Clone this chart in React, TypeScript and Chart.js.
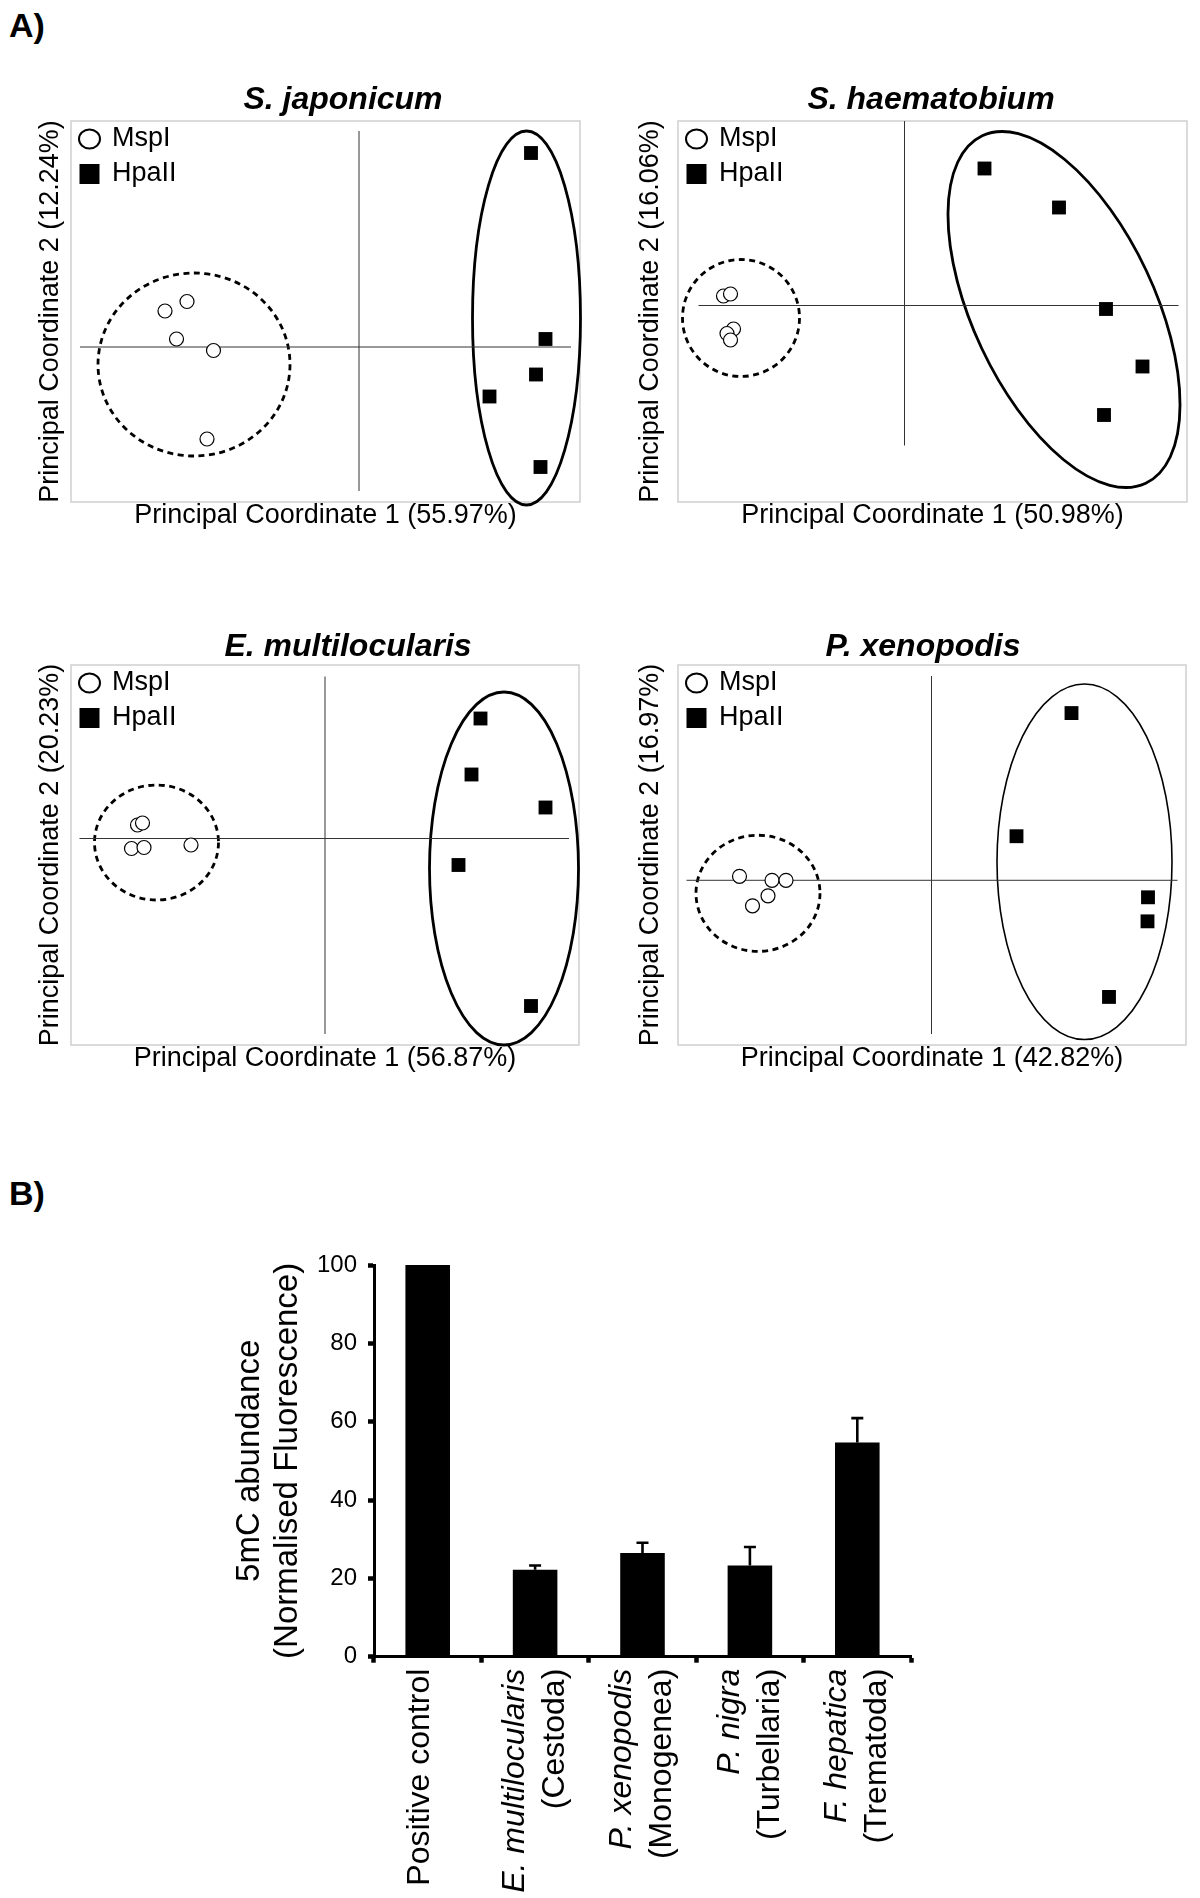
import React, { useEffect, useRef } from 'react';
import { Chart, registerables } from 'chart.js';

Chart.register(...registerables);

const FONT = "'Liberation Sans', Arial, Helvetica, sans-serif";
Chart.defaults.font.family = FONT;
Chart.defaults.color = '#000';

// ---------------- Panel A: PCoA data ----------------
const panelTitles = ['S. japonicum', 'S. haematobium', 'E. multilocularis', 'P. xenopodis'];
const pc1Labels = [
  'Principal Coordinate 1 (55.97%)',
  'Principal Coordinate 1 (50.98%)',
  'Principal Coordinate 1 (56.87%)',
  'Principal Coordinate 1 (42.82%)',
];
const pc2Labels = [
  'Principal Coordinate 2 (12.24%)',
  'Principal Coordinate 2 (16.06%)',
  'Principal Coordinate 2 (20.23%)',
  'Principal Coordinate 2 (16.97%)',
];
const seriesNames = ['MspI', 'HpaII'];

// S. japonicum
const sjMspI = [[-0.388, 0.072], [-0.344, 0.091], [-0.365, 0.016], [-0.291, -0.007], [-0.304, -0.184]];
const sjHpaII = [[0.344, 0.388], [0.373, 0.016], [0.354, -0.055], [0.261, -0.099], [0.363, -0.24]];
const sjClusters = [[-0.33, -0.035, 0.192, 0.183, 0], [0.335, 0.058, 0.108, 0.374, 0]]; // cx, cy, rx, ry, angle
const sjRange = [-0.576, 0.442, -0.31, 0.452]; // xmin, xmax, ymin, ymax
const sjAxisLines = [-0.558, 0.424, -0.288, 0.432]; // PC1 line x-extent, PC2 line y-extent

// S. haematobium
const shMspI = [[-0.362, 0.019], [-0.348, 0.023], [-0.342, -0.047], [-0.355, -0.056], [-0.348, -0.069]];
const shHpaII = [[0.16, 0.274], [0.309, 0.196], [0.403, -0.007], [0.476, -0.122], [0.399, -0.219]];
const shClusters = [[-0.327, -0.025, 0.117, 0.117, 0], [0.319, -0.008, 0.384, 0.182, -64.8]];
const shRange = [-0.453, 0.565, -0.393, 0.369];
const shAxisLines = [-0.412, 0.548, -0.28, 0.369];

// E. multilocularis
const emMspI = [[-0.375, 0.027], [-0.365, 0.031], [-0.387, -0.02], [-0.362, -0.018], [-0.268, -0.013]];
const emHpaII = [[0.311, 0.24], [0.293, 0.128], [0.441, 0.062], [0.267, -0.053], [0.412, -0.335]];
const emClusters = [[-0.337, -0.008, 0.124, 0.115, 0], [0.358, -0.06, 0.149, 0.353, 0]];
const emRange = [-0.508, 0.508, -0.413, 0.347];
const emAxisLines = [-0.491, 0.488, -0.391, 0.324];

// P. xenopodis
const pxMspI = [[-0.384, 0.008], [-0.319, 0.0], [-0.291, 0.0], [-0.327, -0.031], [-0.358, -0.051]];
const pxHpaII = [[0.28, 0.334], [0.17, 0.088], [0.433, -0.034], [0.432, -0.082], [0.355, -0.233]];
const pxClusters = [[-0.347, -0.026, 0.124, 0.116, 0], [0.306, 0.037, 0.175, 0.355, 0]];
const pxRange = [-0.507, 0.509, -0.329, 0.43];
const pxAxisLines = [-0.49, 0.492, -0.307, 0.408];

const panelData = [
  { mspI: sjMspI, hpaII: sjHpaII, clusters: sjClusters, range: sjRange, axisLines: sjAxisLines },
  { mspI: shMspI, hpaII: shHpaII, clusters: shClusters, range: shRange, axisLines: shAxisLines },
  { mspI: emMspI, hpaII: emHpaII, clusters: emClusters, range: emRange, axisLines: emAxisLines },
  { mspI: pxMspI, hpaII: pxHpaII, clusters: pxClusters, range: pxRange, axisLines: pxAxisLines },
];

// ---------------- Panel B: bar data ----------------
const barCategories = ['Positive control', 'E. multilocularis', 'P. xenopodis', 'P. nigra', 'F. hepatica'];
const barClasses = ['', '(Cestoda)', '(Monogenea)', '(Turbellaria)', '(Trematoda)'];
const barValues = [100, 22.2, 26.5, 23.3, 54.7];
const barErrors = [0, 1.1, 2.6, 4.7, 6.2];
const barYTitle = ['5mC abundance', '(Normalised Fluorescence)'];

// ---------------- Layout (pixels) ----------------
const TITLE_SIZE = 32;
const AXIS_SIZE = 27;
const LEGEND_SIZE = 27;
const CAT_SIZE = 32;
const panelLayout = [
  { box: [71, 121, 580, 502], titleX: 343, titleY: 100, yLabX: 50.5, xLabY: 515.4, canvasLeft: 0, solidWidth: 2.8 },
  { box: [678, 121, 1187, 502], titleX: 931, titleY: 100, yLabX: 651, xLabY: 515.4, canvasLeft: 607, solidWidth: 2.8 },
  { box: [71, 665, 579, 1045], titleX: 348, titleY: 647, yLabX: 50.5, xLabY: 1058.4, canvasLeft: 0, solidWidth: 2.8 },
  { box: [678, 665, 1186, 1045], titleX: 923, titleY: 647, yLabX: 651, xLabY: 1058.4, canvasLeft: 607, solidWidth: 1.6 },
];

function panelGeometry(i: number) {
  const L = panelLayout[i];
  const [bl, bt, br, bb] = L.box;
  const titleLH = TITLE_SIZE * 1.2;
  const axLH = AXIS_SIZE * 1.2;
  const CL = L.canvasLeft;
  const CT = bt - 60;
  const CR = 2 * L.titleX - CL;
  const CB = bb + 42;
  const pt = L.titleY - titleLH / 2 - CT;
  return {
    CL,
    CT,
    CW: CR - CL,
    CH: CB - CT,
    pt,
    pb: bt - CT - titleLH - pt,
    wY: bl - CL,
    wR: CR - br,
    hX: CB - bb,
    ptY: Math.max(0, L.yLabX - CL - axLH / 2),
    pbX: Math.max(0, CB - axLH / 2 - L.xLabY),
  };
}

function decorPlugin(i: number) {
  const d = panelData[i];
  const solidW = panelLayout[i].solidWidth;
  return {
    id: 'pcoaDecor',
    beforeDatasetsDraw(chart: any) {
      const { ctx, chartArea: a, scales } = chart;
      const xs = scales.x;
      const ys = scales.y;
      ctx.save();
      ctx.strokeStyle = '#cfcfcf';
      ctx.lineWidth = 1.5;
      ctx.strokeRect(a.left, a.top, a.right - a.left, a.bottom - a.top);
      d.clusters.forEach((c: number[], k: number) => {
        const [cx, cy, rx, ry, ang] = c;
        const px = xs.getPixelForValue(cx);
        const py = ys.getPixelForValue(cy);
        const prx = Math.abs(xs.getPixelForValue(cx + rx) - px);
        const pry = Math.abs(ys.getPixelForValue(cy + ry) - py);
        ctx.beginPath();
        ctx.setLineDash(k === 0 ? [6, 4.5] : []);
        ctx.lineWidth = k === 0 ? 2.8 : solidW;
        ctx.strokeStyle = '#000';
        ctx.ellipse(px, py, prx, pry, (-ang * Math.PI) / 180, 0, Math.PI * 2);
        ctx.stroke();
      });
      ctx.restore();
    },
    afterDraw(chart: any) {
      const { ctx, chartArea: a } = chart;
      ctx.save();
      const mx = a.left + 18.5;
      seriesNames.forEach((name, k) => {
        const my = a.top + 18 + k * 35;
        if (k === 0) {
          ctx.beginPath();
          ctx.ellipse(mx, my, 10.5, 9.5, 0, 0, Math.PI * 2);
          ctx.fillStyle = '#fff';
          ctx.fill();
          ctx.lineWidth = 2;
          ctx.strokeStyle = '#000';
          ctx.stroke();
        } else {
          ctx.fillStyle = '#000';
          ctx.fillRect(mx - 10, my - 10, 20, 20);
        }
        ctx.fillStyle = '#000';
        ctx.font = `${LEGEND_SIZE}px ${FONT}`;
        ctx.textAlign = 'left';
        ctx.textBaseline = 'middle';
        ctx.fillText(name, a.left + 41, my);
      });
      ctx.restore();
    },
  };
}

function buildPanel(i: number): any {
  const d = panelData[i];
  const g = panelGeometry(i);
  const toPts = (arr: number[][]) => arr.map(([x, y]) => ({ x, y }));
  const hiddenGrid = { display: false, drawTicks: false };
  return {
    type: 'scatter',
    data: {
      datasets: [
        { label: seriesNames[0], data: toPts(d.mspI), pointStyle: 'circle', pointRadius: 7, backgroundColor: '#fff', borderColor: '#000', borderWidth: 1.2 },
        { label: seriesNames[1], data: toPts(d.hpaII), pointStyle: 'rect', pointRadius: 9.8, backgroundColor: '#000', borderColor: '#000', borderWidth: 0 },
        { label: 'PC1 = 0', data: [{ x: d.axisLines[0], y: 0 }, { x: d.axisLines[1], y: 0 }], showLine: true, pointRadius: 0, borderColor: '#333', borderWidth: 1 },
        { label: 'PC2 = 0', data: [{ x: 0, y: d.axisLines[2] }, { x: 0, y: d.axisLines[3] }], showLine: true, pointRadius: 0, borderColor: '#333', borderWidth: 1 },
      ],
    },
    options: {
      responsive: false,
      animation: false,
      events: [],
      layout: { padding: 0, autoPadding: false },
      plugins: {
        legend: { display: false },
        tooltip: { enabled: false },
        title: {
          display: true,
          text: panelTitles[i],
          color: '#000',
          font: { family: FONT, size: TITLE_SIZE, weight: 'bold', style: 'italic', lineHeight: 1.2 },
          padding: { top: g.pt, bottom: g.pb },
        },
      },
      scales: {
        x: {
          type: 'linear',
          position: 'bottom',
          min: d.range[0],
          max: d.range[1],
          grid: hiddenGrid,
          border: { display: false },
          ticks: { display: false },
          title: { display: true, text: pc1Labels[i], color: '#000', font: { size: AXIS_SIZE, lineHeight: 1.2 }, padding: { top: 0, bottom: g.pbX } },
          afterFit: (s: any) => { s.height = g.hX; },
        },
        y: {
          type: 'linear',
          position: 'left',
          min: d.range[2],
          max: d.range[3],
          grid: hiddenGrid,
          border: { display: false },
          ticks: { display: false },
          title: { display: true, text: pc2Labels[i], color: '#000', font: { size: AXIS_SIZE, lineHeight: 1.2 }, padding: { top: g.ptY, bottom: 0 } },
          afterFit: (s: any) => { s.width = g.wY; },
        },
        yR: {
          type: 'linear',
          position: 'right',
          display: true,
          grid: hiddenGrid,
          border: { display: false },
          ticks: { display: false },
          afterFit: (s: any) => { s.width = g.wR; },
        },
      },
    },
    plugins: [decorPlugin(i)],
  };
}

const errorBarPlugin = {
  id: 'errorBars',
  afterDatasetsDraw(chart: any) {
    const { ctx } = chart;
    const ys = chart.scales.y;
    const meta = chart.getDatasetMeta(0);
    ctx.save();
    ctx.strokeStyle = '#000';
    ctx.lineWidth = 2.6;
    ctx.lineCap = 'butt';
    meta.data.forEach((bar: any, k: number) => {
      const e = barErrors[k];
      if (!e) return;
      const x = bar.x;
      const yTop = ys.getPixelForValue(barValues[k] + e);
      ctx.beginPath();
      ctx.moveTo(x, bar.y);
      ctx.lineTo(x, yTop);
      ctx.moveTo(x - 6, yTop);
      ctx.lineTo(x + 6, yTop);
      ctx.stroke();
    });
    ctx.restore();
  },
};

const BAR_BOX = { left: 200, top: 1200, width: 740, height: 698 };

function buildBars(): any {
  const rotTicks = { autoSkip: false, minRotation: 90, maxRotation: 90, color: '#000' };
  return {
    type: 'bar',
    data: {
      labels: barCategories,
      datasets: [
        { label: '5mC abundance', data: barValues, backgroundColor: '#000', borderWidth: 0, barPercentage: 0.415, categoryPercentage: 1 },
      ],
    },
    options: {
      responsive: false,
      animation: false,
      events: [],
      layout: { padding: { top: 65, right: 29, left: 0, bottom: 0 }, autoPadding: false },
      plugins: { legend: { display: false }, tooltip: { enabled: false }, title: { display: false } },
      scales: {
        y: {
          min: 0,
          max: 100,
          position: 'left',
          ticks: { stepSize: 20, color: '#000', font: { size: 24 }, padding: 11 },
          grid: { display: true, drawOnChartArea: false, drawTicks: true, tickLength: 6, tickWidth: 4.5, tickColor: '#000' },
          border: { display: true, color: '#000', width: 3 },
          title: { display: true, text: barYTitle, color: '#000', font: { size: 33, lineHeight: 1.15 }, padding: { top: 31, bottom: 0 } },
          afterFit: (s: any) => { s.width = 174; },
        },
        x: {
          type: 'category',
          position: 'bottom',
          offset: true,
          grid: { display: true, offset: true, drawOnChartArea: false, drawTicks: true, tickLength: 6, tickWidth: 4.5, tickColor: '#000' },
          border: { display: true, color: '#000', width: 3 },
          ticks: {
            ...rotTicks,
            padding: 6,
            labelOffset: -20,
            font: (c: any) => ({ size: CAT_SIZE, style: c.index === 0 ? 'normal' : 'italic' }),
            callback: (_v: any, k: number) => (k === 0 ? '' : barCategories[k]),
          },
          afterFit: (s: any) => { s.height = 241.3; },
        },
        xCtl: {
          type: 'category',
          axis: 'x',
          position: { y: 0 },
          labels: barCategories,
          offset: true,
          grid: { display: false, drawTicks: false, offset: true },
          border: { display: false },
          ticks: {
            ...rotTicks,
            padding: 12,
            labelOffset: -8,
            font: { size: CAT_SIZE },
            callback: (_v: any, k: number) => (k === 0 ? barCategories[0] : ''),
          },
        },
        xCls: {
          type: 'category',
          axis: 'x',
          position: { y: 0 },
          labels: barClasses,
          offset: true,
          grid: { display: false, drawTicks: false, offset: true },
          border: { display: false },
          ticks: { ...rotTicks, padding: 12, labelOffset: 20, font: { size: CAT_SIZE } },
        },
      },
    },
    plugins: [errorBarPlugin],
  };
}

function ChartCanvas(props: { left: number; top: number; width: number; height: number; build: () => any }) {
  const ref = useRef<HTMLCanvasElement | null>(null);
  useEffect(() => {
    if (!ref.current) return;
    const chart = new Chart(ref.current, props.build());
    return () => chart.destroy();
  }, []);
  const { left, top, width, height } = props;
  return (
    <canvas
      ref={ref}
      width={width}
      height={height}
      style={{ position: 'absolute', left, top, width, height, display: 'block' }}
    />
  );
}

const panelLetterStyle: React.CSSProperties = {
  position: 'absolute',
  fontFamily: FONT,
  fontWeight: 'bold',
  fontSize: 34,
  lineHeight: 1,
  color: '#000',
};

export default function App() {
  return (
    <div
      style={{
        position: 'absolute',
        left: 0,
        top: 0,
        width: 1200,
        height: 1898,
        overflow: 'hidden',
        background: '#fff',
      }}
    >
      <div style={{ ...panelLetterStyle, left: 9, top: 8 }}>A)</div>
      {panelTitles.map((_, i) => {
        const g = panelGeometry(i);
        return (
          <ChartCanvas key={i} left={g.CL} top={g.CT} width={g.CW} height={g.CH} build={() => buildPanel(i)} />
        );
      })}
      <div style={{ ...panelLetterStyle, left: 9, top: 1176 }}>B)</div>
      <ChartCanvas left={BAR_BOX.left} top={BAR_BOX.top} width={BAR_BOX.width} height={BAR_BOX.height} build={buildBars} />
    </div>
  );
}
